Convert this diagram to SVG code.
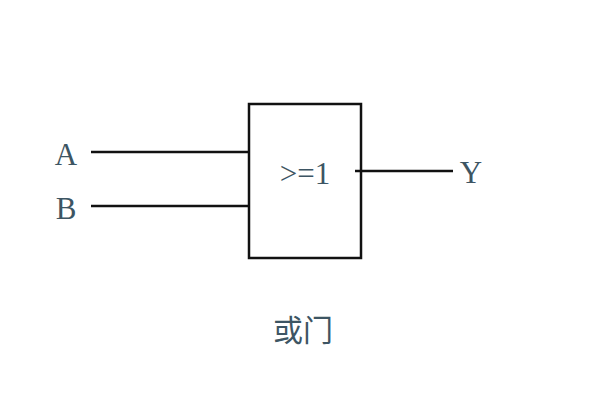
<svg xmlns="http://www.w3.org/2000/svg" width="600" height="400" viewBox="0 0 600 400">
<style>
.t{font-family:"Liberation Serif","Noto Sans CJK SC",serif;fill:#3d5563;font-size:31px;text-anchor:middle;dominant-baseline:central}
.l{stroke:#111;stroke-width:2.5;fill:none}
</style>
<rect width="600" height="400" fill="#fff"/>
<g id="connectors">
<line class="l" x1="91" y1="152" x2="249" y2="152"/>
<line class="l" x1="91" y1="206" x2="249" y2="206"/>
<line class="l" x1="355" y1="171" x2="453" y2="171"/>
</g>
<g id="gate">
<rect class="l" x="249" y="104" width="112" height="154"/>
<text class="t" x="305" y="173">&gt;=1</text>
</g>
<g id="A"><text class="t" x="66" y="154">A</text></g>
<g id="B"><text class="t" x="66" y="208">B</text></g>
<g id="Y"><text class="t" x="471" y="172">Y</text></g>
<text class="t" x="303" y="330" style="font-size:30px">或门</text>
</svg>
